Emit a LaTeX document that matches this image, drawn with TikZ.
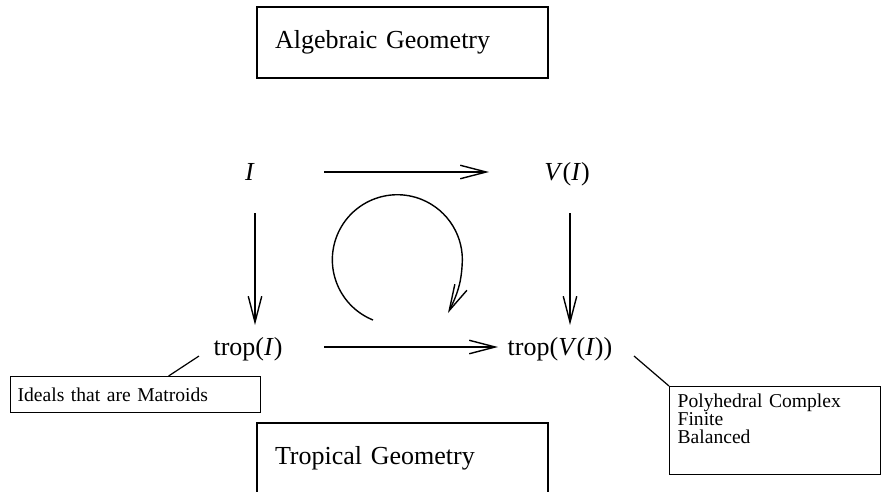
\documentclass[tikz,border=0pt]{standalone}
\usepackage{fontspec}
\setmainfont{Liberation Serif}
\usetikzlibrary{arrows.meta}
\begin{document}
\begin{tikzpicture}[x=1pt,y=-1pt,
  lbl/.style={inner sep=0pt, text height=17.2pt, text depth=0pt, font=\fontsize{26}{31}\selectfont},
  bigbox/.style={draw, line width=1.6pt, minimum width=291pt, minimum height=71pt, text width=255pt, inner xsep=18pt, inner ysep=0pt, align=left, font=\fontsize{26}{31}\selectfont},
  notebox/.style={draw, line width=1.2pt, align=left, inner ysep=0pt, anchor=north west, font=\fontsize{19.6}{18.3}\selectfont},
  arr/.style={line width=1.4pt, -{Straight Barb[length=26pt,width=13.5pt,line width=1.4pt]}},
  callout/.style={line width=1.2pt}]
\useasboundingbox (0,0) rectangle (882,491);
\clip (0,0) rectangle (882,491);

% group boxes
\node[bigbox] (alg) at (402.5,42.5) {Algebraic Geometry};
\node[bigbox] (trop) at (402.5,458.5) {Tropical Geometry};

% diagram nodes
\node[lbl] (I) at (250,172) {\textit{I}};
\node[lbl] (VI) at (567,172) {\textit{V}(\textit{I})};
\node[lbl] (tI) at (248,347) {trop(\textit{I})};
\node[lbl] (tVI) at (560,347) {trop(\textit{V}(\textit{I}))};

% arrows
\draw[arr, shorten <=74pt, shorten >=78pt] (I.center) -- (VI.center);
\draw[arr, shorten <=76pt, shorten >=62pt] (tI.center) -- (tVI.center);
\draw[arr, shorten <=41pt, shorten >=22pt] ([xshift=5pt]I.center) -- ([xshift=5pt]I.center |- tI.center);
\draw[arr, shorten <=41pt, shorten >=22pt] ([xshift=3pt]VI.center) -- ([xshift=3pt]VI.center |- tVI.center);

% commuting loop
\coordinate (loopc) at (398,258);
\draw[arr] (373,320) arc[start angle=112, end angle=365, radius=65]
  .. controls (461,284) and (457,295) .. (448,313);

% notes
\node[notebox, minimum width=250pt, minimum height=36pt, text width=236pt, inner xsep=7pt] (ideals) at (10,376) {Ideals that are Matroids};
\node[notebox, minimum width=211pt, minimum height=88pt, text width=195pt, inner xsep=8pt] (poly) at (669,386) {Polyhedral Complex\\Finite\\Balanced\\\strut};

\coordinate (c1) at (199,356);
\coordinate (c2) at (634,356);
\draw[callout] ([xshift=33pt]ideals.north) -- (c1);
\draw[callout] (poly.north west) -- (c2);
\end{tikzpicture}
\end{document}
